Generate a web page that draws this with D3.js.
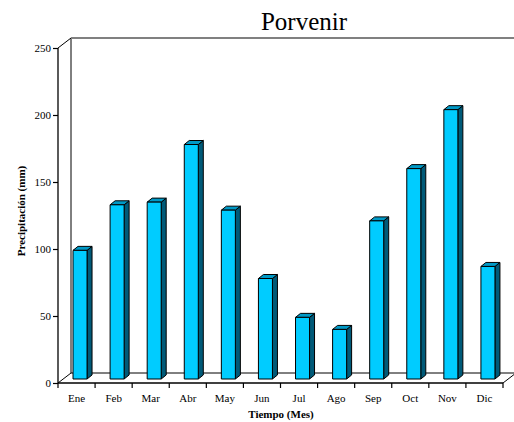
<!DOCTYPE html>
<html><head><meta charset="utf-8">
<script src="https://cdn.jsdelivr.net/npm/d3@7"></script>
<style>body{margin:0;background:#fff}svg{display:block}</style>
</head><body>
<script>
const months = ["Ene","Feb","Mar","Abr","May","Jun","Jul","Ago","Sep","Oct","Nov","Dic"];
const precip = [96, 130, 132, 175, 126, 75, 46, 37, 118, 157, 201, 84];
const yTicks = [0, 50, 100, 150, 200, 250];
const title = "Porvenir";
const yTitle = "Precipitación (mm)";
const xTitle = "Tiempo (Mes)";

const W = 514, H = 422;
const font = "'Liberation Serif','Times New Roman',serif";
const svg = d3.select("body").append("svg").attr("width", W).attr("height", H);

const x = d3.scaleBand().domain(months).range([58, 503]).padding(0);
const y = d3.scaleLinear().domain([0, 250]).range([383, 48]);
const DX = 13, DY = -10;   // wall depth
const x0 = x.range()[0], x1 = x.range()[1];

// back wall / floor lines
const g = svg.append("g").attr("stroke", "#000").attr("fill", "none");
g.append("line").attr("x1", x0 + DX).attr("y1", y(250) + DY).attr("x2", x0 + DX).attr("y2", y(0) + DY).attr("stroke-width", 1);
g.append("line").attr("x1", x0 + DX).attr("y1", y(0) + DY).attr("x2", x1 + DX).attr("y2", y(0) + DY).attr("stroke-width", 1);
g.append("line").attr("x1", x0).attr("y1", y(250)).attr("x2", x0 + DX).attr("y2", y(250) + DY).attr("stroke-width", 1);
g.append("line").attr("x1", x0).attr("y1", y(0)).attr("x2", x0 + DX).attr("y2", y(0) + DY).attr("stroke-width", 1);
g.append("line").attr("x1", x1).attr("y1", y(0)).attr("x2", x1 + DX).attr("y2", y(0) + DY).attr("stroke-width", 1);
svg.append("line").attr("x1", x0 + DX).attr("y1", y(250) + DY).attr("x2", W).attr("y2", y(250) + DY)
  .attr("stroke", "#808080").attr("stroke-width", 2);

// bars
const bw = x.bandwidth();
const fw = bw * 0.378, off = bw * 0.405;
const bdx = 5, bdy = -4, baseShift = -4;
const bars = svg.append("g").attr("stroke", "#000").attr("stroke-width", 1).attr("stroke-linejoin", "round");
months.forEach((m, i) => {
  const v = precip[i];
  const lx = x(m) + off, rx = lx + fw;
  const by = y(0) + baseShift, ty = y(v) + baseShift;
  // side
  bars.append("path").attr("fill", "#005A78")
    .attr("d", `M${rx},${ty}L${rx + bdx},${ty + bdy}L${rx + bdx},${by + bdy}L${rx},${by}Z`);
  // top
  bars.append("path").attr("fill", "#0099C6")
    .attr("d", `M${lx},${ty}L${lx + bdx},${ty + bdy}L${rx + bdx},${ty + bdy}L${rx},${ty}Z`);
  // front
  bars.append("rect").attr("fill", "#00CCFF")
    .attr("x", lx).attr("y", ty).attr("width", fw).attr("height", by - ty);
});

// y axis
const ya = svg.append("g").attr("transform", `translate(${x0},0)`)
  .call(d3.axisLeft(y).tickValues(yTicks).tickSize(5).tickPadding(2).tickFormat(d3.format("d")));
ya.select(".domain").attr("stroke", "#000").attr("stroke-width", 1.3).attr("d", `M0,${y(250)}V${y(0)}`);
ya.selectAll(".tick line").attr("stroke", "#000").attr("stroke-width", 1.2);
ya.selectAll("text").attr("font-family", font).attr("font-size", 11).attr("fill", "#000");

// x axis (labels at centers, ticks at boundaries)
const xa = svg.append("g").attr("transform", `translate(0,${y(0)})`)
  .call(d3.axisBottom(x).tickSize(0).tickPadding(11));
xa.select(".domain").attr("stroke", "#000").attr("stroke-width", 1.3).attr("d", `M${x0},0H${x1}`);
xa.selectAll("text").attr("font-family", font).attr("font-size", 11).attr("fill", "#000");
const bounds = months.map(m => x(m)).concat([x1]);
xa.selectAll(".btick").data(bounds).join("line").attr("class", "btick")
  .attr("x1", d => d).attr("x2", d => d).attr("y1", 0).attr("y2", 5)
  .attr("stroke", "#000").attr("stroke-width", 1.2);

// titles
svg.append("text").attr("x", 304).attr("y", 30).attr("text-anchor", "middle")
  .attr("font-family", font).attr("font-size", 25).text(title);
svg.append("text").attr("transform", `translate(25,211) rotate(-90)`).attr("text-anchor", "middle")
  .attr("font-family", font).attr("font-size", 11).attr("font-weight", "bold").text(yTitle);
svg.append("text").attr("x", 281).attr("y", 418).attr("text-anchor", "middle")
  .attr("font-family", font).attr("font-size", 11).attr("font-weight", "bold").text(xTitle);
</script>
</body></html>
